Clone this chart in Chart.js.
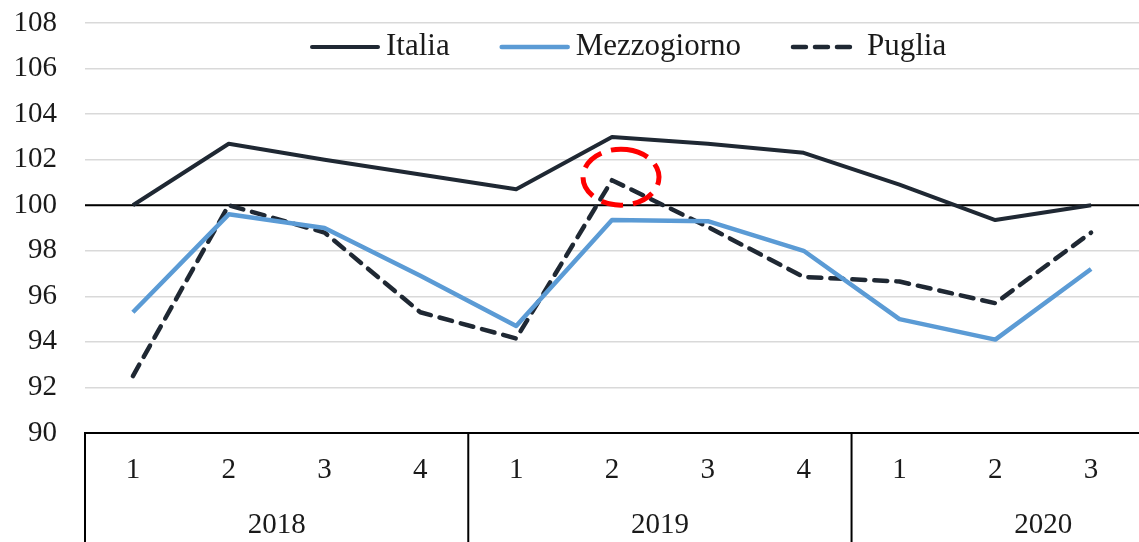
<!DOCTYPE html>
<html>
<head>
<meta charset="utf-8">
<script src="https://cdn.jsdelivr.net/npm/chart.js@4.4.1/dist/chart.umd.min.js"></script>
<style>
  html, body { margin: 0; padding: 0; background: #fff; overflow: hidden; }
  #wrap { width: 1139px; height: 542px; position: relative; }
</style>
</head>
<body>
<div id="wrap"><canvas id="chart"></canvas></div>
<script>
// quarters on the axis, grouped by year
const quarters = ['1', '2', '3', '4', '1', '2', '3', '4', '1', '2', '3']
const years = ['2018', '2019', '2020']
const quartersPerYear = 4

const italia = [100.0, 102.7, 102.0, 101.35, 100.7, 103.0, 102.7, 102.3, 100.9, 99.35, 100.0]
const mezzogiorno = [95.3, 99.6, 99.0, 96.9, 94.7, 99.35, 99.3, 98.0, 95.0, 94.1, 97.2]
const puglia = [92.5, 100.0, 98.8, 95.3, 94.15, 101.1, 99.05, 96.85, 96.65, 95.7, 98.8]

const yTicks = [90, 92, 94, 96, 98, 100, 102, 104, 106, 108]
const baseValue = 100
const highlightIndex = 5   // Puglia, 2019 Q2

const serif = '"Liberation Serif", "Times New Roman", serif'
const textColor = '#1a1a1a'
const dark = '#1f2833'
const blue = '#5b9bd5'

// black reference line at 100, under the series
const baseLine = {
    id: 'baseLine',
    beforeDatasetsDraw(chart) {
        const {ctx, chartArea, scales} = chart
        const y = scales.y.getPixelForValue(baseValue)
        ctx.save()
        ctx.strokeStyle = '#000'
        ctx.lineWidth = 2
        ctx.beginPath()
        ctx.moveTo(chartArea.left, y)
        ctx.lineTo(chartArea.right, y)
        ctx.stroke()
        ctx.restore()
    }
}

// red dashed ring around the Puglia peak
const highlight = {
    id: 'highlight',
    afterDatasetsDraw(chart) {
        const {ctx, scales} = chart
        const cx = scales.x.getPixelForValue(highlightIndex) + 9
        const cy = scales.y.getPixelForValue(puglia[highlightIndex]) - 3
        ctx.save()
        ctx.strokeStyle = '#ff0000'
        ctx.lineWidth = 5
        ctx.setLineDash([22, 10])
        ctx.beginPath()
        ctx.ellipse(cx, cy, 38, 28, 0, -Math.PI * 0.45, Math.PI * 1.55)
        ctx.stroke()
        ctx.restore()
    }
}

// year row + box lines under the quarter labels
const yearAxis = {
    id: 'yearAxis',
    afterDraw(chart) {
        const {ctx, chartArea, scales} = chart
        const x = scales.x
        const slot = x.getPixelForValue(1) - x.getPixelForValue(0)
        ctx.save()
        ctx.strokeStyle = '#000'
        ctx.lineWidth = 2
        ctx.fillStyle = textColor
        ctx.font = '29px ' + serif
        ctx.textAlign = 'center'
        ctx.textBaseline = 'middle'
        years.forEach((year, i) => {
            const left = x.getPixelForValue(i * quartersPerYear) - slot / 2
            ctx.beginPath()
            ctx.moveTo(left, chartArea.bottom)
            ctx.lineTo(left, chart.height)
            ctx.stroke()
            ctx.fillText(year, left + slot * quartersPerYear / 2, 525)
        })
        ctx.restore()
    }
}

// legend drawn as line samples followed by the labels
const lineLegend = {
    id: 'lineLegend',
    afterDraw(chart) {
        const {ctx} = chart
        let x = 310
        const y = 47
        ctx.save()
        ctx.font = '31px ' + serif
        ctx.textBaseline = 'middle'
        chart.data.datasets.forEach(ds => {
            ctx.strokeStyle = ds.borderColor
            ctx.lineWidth = ds.borderWidth
            ctx.lineCap = 'round'
            ctx.setLineDash(ds.borderDash || [])
            ctx.beginPath()
            ctx.moveTo(x + 2, y)
            ctx.lineTo(x + 68, y)
            ctx.stroke()
            ctx.setLineDash([])
            ctx.fillStyle = textColor
            ctx.fillText(ds.label, x + 76, y)
            x += 76 + ctx.measureText(ds.label).width + 50
        })
        ctx.restore()
    }
}

new Chart(document.getElementById('chart'), {
    type: 'line',
    data: {
        labels: quarters,
        datasets: [
            {
                label: 'Italia',
                data: italia,
                borderColor: dark,
                borderWidth: 4,
                pointRadius: 0,
                tension: 0,
                borderJoinStyle: 'round'
            },
            {
                label: 'Mezzogiorno',
                data: mezzogiorno,
                borderColor: blue,
                borderWidth: 4.5,
                pointRadius: 0,
                tension: 0,
                borderJoinStyle: 'round'
            },
            {
                label: 'Puglia',
                data: puglia,
                borderColor: dark,
                borderWidth: 4.5,
                borderDash: [13, 9],
                borderCapStyle: 'round',
                pointRadius: 0,
                tension: 0,
                borderJoinStyle: 'round'
            }
        ]
    },
    options: {
        responsive: true,
        maintainAspectRatio: false,
        animation: false,
        layout: { padding: { top: 23, right: 0, bottom: 0, left: 0 } },
        plugins: {
            legend: { display: false },
            tooltip: { enabled: false }
        },
        scales: {
            x: {
                type: 'category',
                offset: true,
                grid: { display: false, drawTicks: false },
                border: { display: true, color: '#000', width: 2 },
                ticks: {
                    color: textColor,
                    font: { family: serif, size: 29 },
                    padding: 20,
                    maxRotation: 0,
                    autoSkip: false
                },
                afterFit(scale) { scale.height = 109 }
            },
            y: {
                min: 90,
                max: 108,
                afterBuildTicks(scale) { scale.ticks = yTicks.map(v => ({value: v})) },
                grid: { color: '#d9d9d9', lineWidth: 1.5, drawTicks: false },
                border: { display: false },
                ticks: {
                    color: textColor,
                    font: { family: serif, size: 29 },
                    padding: 28
                },
                afterFit(scale) {
                    scale.width = 85
                    scale.paddingTop = 0
                    scale.paddingBottom = 0
                }
            }
        }
    },
    plugins: [baseLine, highlight, yearAxis, lineLegend]
})
</script>
</body>
</html>
